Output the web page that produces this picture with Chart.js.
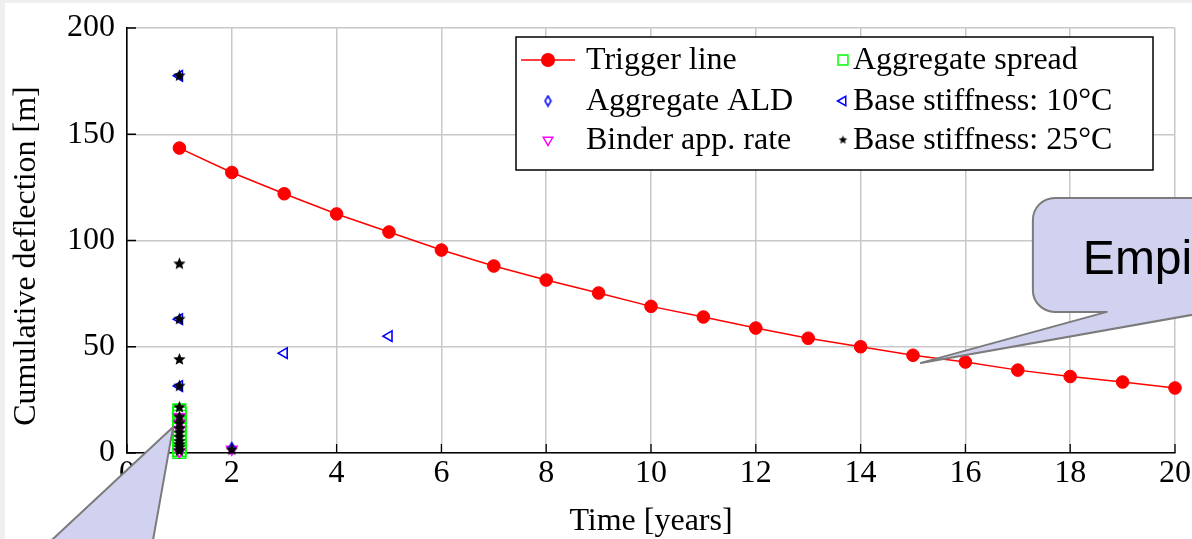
<!DOCTYPE html>
<html lang="en">
<head>
<meta charset="UTF-8" />
<title>Cumulative deflection</title>
<script src="https://cdn.jsdelivr.net/npm/chart.js"></script>
<style>
  html, body { margin: 0; padding: 0; background: #fff; }
  canvas { display: block; }
</style>
</head>
<body>
<canvas id="deflChart" width="1192" height="539"></canvas>
<script>
  // values
  const years = [1, 2, 3, 4, 5, 6, 7, 8, 9, 10, 11, 12, 13, 14, 15, 16, 17, 18, 19, 20];
  const triggerLine = [143.5, 132, 122, 112.5, 104, 95.5, 88, 81.4, 75.3, 69, 64, 58.8, 54, 50, 46, 42.8, 39, 36, 33.4, 30.6];

  const spreadYears = [1, 1, 1, 1, 1, 1, 1, 1, 1, 1, 1, 1];
  const spreadVals  = [20, 18.5, 17, 15, 13, 11, 9, 7, 5, 3, 1.5, 0.5];

  const aldYears = [1, 1, 2];
  const aldVals  = [8, 4, 2.5];

  const base10Years = [1, 1, 1, 3, 5];
  const base10Vals  = [177.5, 63, 31.5, 47, 55];

  const binderYears = [1, 1, 1, 1, 2];
  const binderVals  = [17, 14, 11, 0.5, 1.8];

  const base25Years = [1, 1, 1, 1, 1, 1, 1, 1, 1, 1, 1, 1, 1, 1, 1, 2];
  const base25Vals  = [177.5, 89, 63, 44, 31.5, 21.5, 17, 14, 11.5, 9.5, 7.5, 5.5, 4, 2.5, 1, 1.5];

  const xTicks = [0, 2, 4, 6, 8, 10, 12, 14, 16, 18, 20];
  const yTicks = [0, 50, 100, 150, 200];

  const yTitle = 'Cumulative deflection [m]';

  const pairs = (xs, ys) => xs.map((x, i) => ({ x: x, y: ys[i] }));

  function makeStar(r) {
    const c = document.createElement('canvas');
    const s = Math.ceil(r * 2 + 2);
    c.width = c.height = s;
    const g = c.getContext('2d');
    g.fillStyle = '#000';
    g.beginPath();
    for (let i = 0; i < 10; i++) {
      const rad = i % 2 === 0 ? r : r * 0.45;
      const a = -Math.PI / 2 + i * Math.PI / 5;
      g.lineTo(s / 2 + rad * Math.cos(a), s / 2 + rad * Math.sin(a));
    }
    g.closePath();
    g.fill();
    return c;
  }

  function makeDiamond(w, h) {
    const c = document.createElement('canvas');
    c.width = w + 3; c.height = h + 3;
    const g = c.getContext('2d');
    g.strokeStyle = '#0000ff';
    g.lineWidth = 1.5;
    g.beginPath();
    g.moveTo(c.width / 2, 1.5);
    g.lineTo(c.width - 1.5, c.height / 2);
    g.lineTo(c.width / 2, c.height - 1.5);
    g.lineTo(1.5, c.height / 2);
    g.closePath();
    g.stroke();
    return c;
  }

  const bigStar = makeStar(6.5);
  const smallStar = makeStar(4.5);
  const diamond = makeDiamond(6, 10);

  const serif = '"Liberation Serif", "Times New Roman", serif';

  const pagePlugin = {
    id: 'page',
    beforeDraw(chart) {
      const ctx = chart.ctx;
      ctx.save();
      ctx.fillStyle = '#fff';
      ctx.fillRect(0, 0, chart.width, chart.height);
      ctx.fillStyle = '#efefef';
      ctx.fillRect(0, 0, 5, chart.height);
      ctx.fillRect(0, 0, chart.width, 3);
      ctx.restore();
    },
    afterDraw(chart) {
      // y title sits a bit below the middle of the axis in the original
      const ctx = chart.ctx;
      ctx.save();
      ctx.translate(27, chart.chartArea.top + 228);
      ctx.rotate(-Math.PI / 2);
      ctx.font = '32px ' + serif;
      ctx.fillStyle = '#000';
      ctx.textAlign = 'center';
      ctx.textBaseline = 'middle';
      ctx.fillText(yTitle, 0, 0);
      ctx.restore();
    }
  };

  // small inward tick marks on the left and bottom axes
  const innerTicks = {
    id: 'innerTicks',
    afterDatasetsDraw(chart) {
      const { ctx, chartArea, scales } = chart;
      ctx.save();
      ctx.strokeStyle = '#000';
      ctx.lineWidth = 1.3;
      ctx.beginPath();
      yTicks.forEach(v => {
        const y = scales.y.getPixelForValue(v);
        ctx.moveTo(chartArea.left, y);
        ctx.lineTo(chartArea.left + 9, y);
      });
      xTicks.forEach(v => {
        const x = scales.x.getPixelForValue(v);
        ctx.moveTo(x, chartArea.bottom);
        ctx.lineTo(x, chartArea.bottom - 9);
      });
      ctx.stroke();
      ctx.restore();
    }
  };

  const boxLegend = {
    id: 'boxLegend',
    afterDatasetsDraw(chart) {
      const { ctx, chartArea } = chart;
      const right = chartArea.right - 22, top = chartArea.top + 9;
      const left = right - 637, bottom = top + 133;
      ctx.save();
      ctx.fillStyle = '#fff';
      ctx.fillRect(left, top, right - left, bottom - top);
      ctx.strokeStyle = '#000';
      ctx.lineWidth = 1.5;
      ctx.strokeRect(left, top, right - left, bottom - top);
      ctx.font = '32px ' + serif;
      ctx.textBaseline = 'middle';
      const rowY = [top + 23, top + 64, top + 103];
      chart.data.datasets.forEach((ds, i) => {
        const col = i % 2, row = Math.floor(i / 2);
        const y = rowY[row];
        const sx = col === 0 ? left + 32 : left + 327;
        const tx = col === 0 ? left + 70 : left + 337;
        if (ds.showLine) {
          ctx.strokeStyle = ds.borderColor;
          ctx.lineWidth = 1.5;
          ctx.beginPath();
          ctx.moveTo(left + 5, y);
          ctx.lineTo(left + 59, y);
          ctx.stroke();
        }
        ctx.strokeStyle = ds.pointBorderColor;
        ctx.fillStyle = ds.pointBackgroundColor;
        Chart.helpers.drawPoint(ctx, {
          pointStyle: ds.legendStyle || ds.pointStyle,
          radius: ds.legendRadius || 5,
          rotation: ds.pointRotation || 0,
          borderWidth: ds.pointBorderWidth
        }, sx, y);
        ctx.fillStyle = '#000';
        ctx.fillText(ds.label, tx, y + 1);
      });
      ctx.restore();
    }
  };

  const callouts = {
    id: 'callouts',
    afterDraw(chart) {
      const { ctx, scales } = chart;
      const fill = '#d0d2ef', edge = '#7b7b7b';
      ctx.save();
      ctx.lineWidth = 2;
      ctx.lineJoin = 'round';

      // right bubble
      const tx = scales.x.getPixelForValue(15.15), ty = scales.y.getPixelForValue(42.4);
      const L = tx + 112, T = ty - 165, B = ty - 51, R = chart.width + 60, r = 22;
      ctx.beginPath();
      ctx.moveTo(L + r, T);
      ctx.lineTo(R, T);
      ctx.lineTo(R, B);
      ctx.lineTo(tx + 288, B);
      ctx.lineTo(tx, ty);
      ctx.lineTo(tx + 186, B);
      ctx.lineTo(L + r, B);
      ctx.arcTo(L, B, L, B - r, r);
      ctx.lineTo(L, T + r);
      ctx.arcTo(L, T, L + r, T, r);
      ctx.closePath();
      ctx.fillStyle = fill;
      ctx.fill();
      ctx.strokeStyle = edge;
      ctx.stroke();
      ctx.fillStyle = '#000';
      ctx.font = '48px "Liberation Sans", Arial, sans-serif';
      ctx.textBaseline = 'alphabetic';
      ctx.fillText('Empirical', L + 50, ty - 89);

      // lower left bubble pointer
      const bx = scales.x.getPixelForValue(0.88), by = scales.y.getPixelForValue(12.2);
      ctx.beginPath();
      ctx.moveTo(bx - 145, by + 135);
      ctx.lineTo(bx, by);
      ctx.lineTo(bx - 24, by + 135);
      ctx.fillStyle = fill;
      ctx.fill();
      ctx.strokeStyle = edge;
      ctx.stroke();
      ctx.restore();
    }
  };

  const hollow = 'rgba(0,0,0,0)';

  new Chart(document.getElementById('deflChart'), {
    type: 'scatter',
    data: {
      datasets: [
        {
          label: 'Trigger line',
          data: pairs(years, triggerLine),
          showLine: true,
          borderColor: '#ff0000',
          borderWidth: 1.5,
          pointStyle: 'circle',
          pointRadius: 6.3,
          legendRadius: 6.3,
          pointBackgroundColor: '#ff0000',
          pointBorderColor: '#ff0000',
          pointBorderWidth: 1,
          order: 0
        },
        {
          label: 'Aggregate spread',
          data: pairs(spreadYears, spreadVals),
          pointStyle: 'rect',
          pointRadius: 9,
          legendRadius: 7,
          pointBackgroundColor: hollow,
          pointBorderColor: '#00ff00',
          pointBorderWidth: 1.6,
          order: 5
        },
        {
          label: 'Aggregate ALD',
          data: pairs(aldYears, aldVals),
          pointStyle: diamond,
          pointBackgroundColor: hollow,
          pointBorderColor: '#0000ff',
          pointBorderWidth: 1.5,
          order: 3
        },
        {
          label: 'Base stiffness: 10\u00b0C',
          data: pairs(base10Years, base10Vals),
          pointStyle: 'triangle',
          pointRotation: -90,
          pointRadius: 6,
          legendRadius: 5.5,
          pointBackgroundColor: hollow,
          pointBorderColor: '#0000ff',
          pointBorderWidth: 1.6,
          order: 2
        },
        {
          label: 'Binder app. rate',
          data: pairs(binderYears, binderVals),
          pointStyle: 'triangle',
          pointRotation: 180,
          pointRadius: 6,
          legendRadius: 5.5,
          pointBackgroundColor: hollow,
          pointBorderColor: '#ff00ff',
          pointBorderWidth: 1.6,
          order: 4
        },
        {
          label: 'Base stiffness: 25\u00b0C',
          data: pairs(base25Years, base25Vals),
          pointStyle: bigStar,
          legendStyle: smallStar,
          pointBackgroundColor: '#000',
          pointBorderColor: '#000',
          pointBorderWidth: 0,
          order: 1
        }
      ]
    },
    options: {
      responsive: false,
      animation: false,
      clip: false,
      layout: { padding: { top: 28, right: 17, left: 0, bottom: 0 } },
      plugins: {
        legend: { display: false },
        tooltip: { enabled: false }
      },
      scales: {
        x: {
          type: 'linear',
          min: 0, max: 20,
          afterBuildTicks: s => { s.ticks = xTicks.map(v => ({ value: v })); },
          afterFit: s => { s.height = 86; s.paddingLeft = 0; s.paddingRight = 0; },
          grid: { color: '#c8c8c8', lineWidth: 1.5, drawTicks: false },
          border: { color: '#000', width: 1.6 },
          ticks: { color: '#000', padding: 5, font: { family: serif, size: 32, lineHeight: 1 } },
          title: {
            display: true, text: 'Time [years]', color: '#000',
            font: { family: serif, size: 32, lineHeight: 1 },
            padding: { top: 0, bottom: 1 }
          }
        },
        y: {
          type: 'linear',
          min: 0, max: 200,
          afterBuildTicks: s => { s.ticks = yTicks.map(v => ({ value: v })); },
          afterFit: s => { s.width = 127; s.paddingTop = 0; s.paddingBottom = 0; },
          grid: { color: '#c8c8c8', lineWidth: 1.5, drawTicks: false },
          border: { color: '#000', width: 1.6 },
          ticks: { color: '#000', padding: 12, font: { family: serif, size: 32, lineHeight: 1 } },
          title: { display: false }
        }
      }
    },
    plugins: [pagePlugin, innerTicks, boxLegend, callouts]
  });
</script>
</body>
</html>
